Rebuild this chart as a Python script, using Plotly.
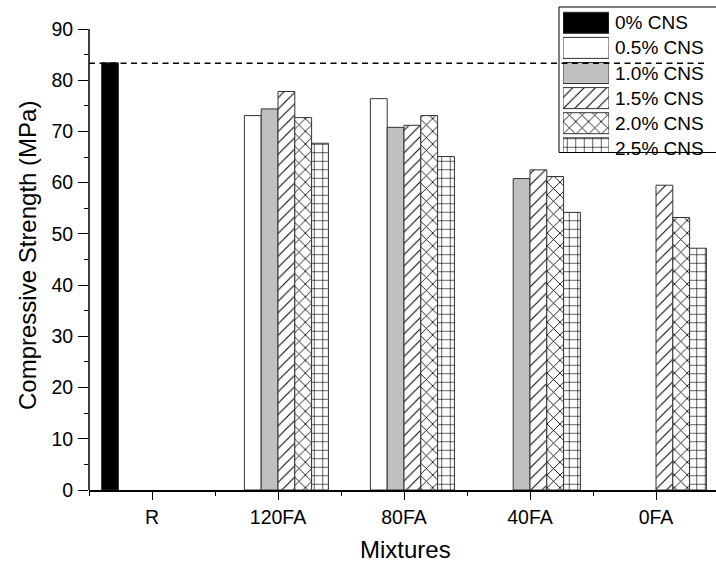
import plotly.graph_objects as go

# ---------------- data ----------------
mixtures = ["R", "120FA", "80FA", "40FA", "0FA"]
series_names = ["0% CNS", "0.5% CNS", "1.0% CNS", "1.5% CNS", "2.0% CNS", "2.5% CNS"]
cns_0_0 = [83.4, None, None, None, None]
cns_0_5 = [None, 73.1, 76.4, None, None]
cns_1_0 = [None, 74.4, 70.8, 60.8, None]
cns_1_5 = [None, 77.8, 71.2, 62.5, 59.5]
cns_2_0 = [None, 72.7, 73.1, 61.2, 53.2]
cns_2_5 = [None, 67.7, 65.1, 54.2, 47.2]
reference_strength = 83.3
y_tick_values = [0, 10, 20, 30, 40, 50, 60, 70, 80, 90]
y_minor_values = [5, 15, 25, 35, 45, 55, 65, 75, 85]

series_values = [cns_0_0, cns_0_5, cns_1_0, cns_1_5, cns_2_0, cns_2_5]

# ---------------- styles ----------------
fills = ["#000000", "#ffffff", "#c0c0c0", "#ffffff", "#ffffff", "#ffffff"]
shapes = ["", "", "", "/", "x", "+"]
sizes = [8, 8, 8, 8, 9, 8.5]
solid = [0.1, 0.1, 0.1, 0.13, 0.18, 0.14]
FONT = "Liberation Sans, Arial, sans-serif"
OUTLINE = "#333333"

W, H = 716, 565
L, R, T, B = 89, 0, 4, 75
plot_h = H - T - B
plot_w = W - L - R
px_per_unit = (490 - 29) / 90.0
y_top = plot_h / px_per_unit
cat_px = 126.0
x_max = -0.5 + plot_w / cat_px


def py(pix):
    return (H - B - pix) / plot_h


def pxf(pix):
    return (pix - L) / plot_w


def make_marker(fc, sh, sz, so):
    m = dict(color=fc, line=dict(color=OUTLINE, width=1))
    if sh:
        m["pattern"] = dict(shape=sh, fgcolor="#000000", bgcolor="#ffffff",
                            size=sz, solidity=so, fillmode="replace")
    return m


x_pos = list(range(len(mixtures)))

fig = go.Figure()
for name, vals, fc, sh, sz, so in zip(series_names, series_values, fills, shapes, sizes, solid):
    fig.add_trace(go.Bar(x=x_pos, y=vals, name=name, marker=make_marker(fc, sh, sz, so),
                         showlegend=False))

# custom legend with large swatches on an auxiliary axis pair
row_pitch = 25.1
first_row = 22.8
box_top, box_bot = 7, 152.5
sw_h = 21.0
for i, (name, fc, sh, sz, so) in enumerate(zip(series_names, fills, shapes, sizes, solid)):
    fig.add_trace(go.Bar(x=[1], y=[i], orientation="h", width=sw_h / row_pitch,
                         offset=-sw_h / row_pitch / 2, base=0,
                         xaxis="x2", yaxis="y2", showlegend=False, hoverinfo="skip",
                         marker=make_marker(fc, sh, sz, so)))
    fig.add_annotation(x=pxf(613), xref="paper", y=i, yref="y2", text=name, showarrow=False,
                       xanchor="left", yanchor="middle",
                       font=dict(size=19, color="black", family=FONT))

y2_lo = (box_top - first_row) / row_pitch
y2_hi = (box_bot - first_row) / row_pitch

fig.update_layout(
    width=W, height=H,
    margin=dict(l=L, r=R, t=T, b=B, autoexpand=False),
    paper_bgcolor="white", plot_bgcolor="white",
    barmode="group", bargap=0.2, bargroupgap=0,
    font=dict(family=FONT, size=19.5, color="black"),
    xaxis=dict(
        range=[-0.5, x_max], tickmode="array", tickvals=x_pos, ticktext=mixtures,
        showline=True, linecolor="black", linewidth=1.5, ticks="outside", ticklen=8,
        tickwidth=1.3, tickcolor="black", showgrid=False, zeroline=False,
        tickfont=dict(size=19.5, family=FONT), ticklabelstandoff=1,
        minor=dict(tickvals=[-0.5, 0.5, 1.5, 2.5, 3.5], ticks="outside", ticklen=4,
                   tickwidth=1.3, tickcolor="black", showgrid=False),
    ),
    yaxis=dict(
        range=[0, y_top], tickmode="array", tickvals=y_tick_values,
        showline=False, ticks="outside", ticklen=10, tickwidth=1.3, tickcolor="black",
        showgrid=False, zeroline=False, tickfont=dict(size=19.5, family=FONT),
        ticklabelstandoff=1,
        minor=dict(tickvals=y_minor_values, ticks="outside", ticklen=4, tickwidth=1.3,
                   tickcolor="black", showgrid=False),
    ),
    xaxis2=dict(domain=[pxf(563), pxf(609)], range=[0, 1], visible=False, anchor="y2"),
    yaxis2=dict(domain=[py(box_bot), py(box_top)], range=[y2_hi, y2_lo],
                visible=False, anchor="x2"),
)

# axis titles
fig.add_annotation(text="Mixtures", xref="paper", yref="paper", x=pxf(405), y=py(549),
                   showarrow=False, xanchor="center", yanchor="middle",
                   font=dict(size=24, family=FONT, color="black"))
fig.add_annotation(text="Compressive Strength (MPa)", xref="paper", yref="paper",
                   x=pxf(27), y=py(256), textangle=-90, showarrow=False,
                   xanchor="center", yanchor="middle",
                   font=dict(size=24, family=FONT, color="black"))

# y-axis line (0..90)
fig.add_shape(type="line", xref="paper", yref="y", x0=0, x1=0, y0=0, y1=90,
              line=dict(color="black", width=1.5))
# legend border
fig.add_shape(type="rect", xref="paper", yref="paper", x0=pxf(559), x1=1.003,
              y0=py(box_bot), y1=py(box_top),
              line=dict(color="black", width=1), fillcolor="rgba(0,0,0,0)")
# reference dashed line
fig.add_shape(type="line", xref="paper", yref="y", x0=0, x1=pxf(707),
              y0=reference_strength, y1=reference_strength,
              line=dict(color="black", width=1.4, dash="6px,4.5px"), layer="above")

fig.write_html("out.html",
               config={"displayModeBar": False},
               post_script="document.body.style.margin='0px';document.body.style.overflow='hidden';")
